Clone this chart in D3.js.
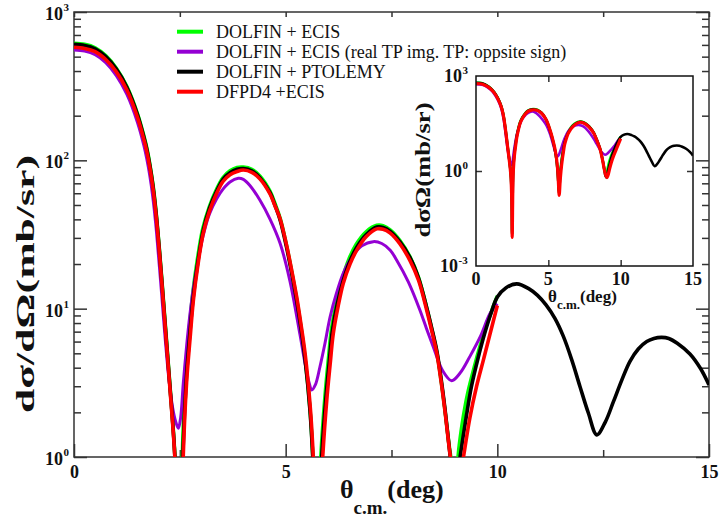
<!DOCTYPE html>
<html>
<head>
<meta charset="utf-8">
<script src="https://cdn.jsdelivr.net/npm/d3@7"></script>
<style>
  html, body { margin: 0; padding: 0; background: #fff; }
  svg { display: block; font-family: "Liberation Serif", "Times New Roman", serif; }
</style>
</head>
<body>
<svg id="chart" width="720" height="517" font-family="Liberation Serif, Times New Roman, serif"></svg>
<script>
// Differential cross section dσ/dΩ (mb/sr) against θc.m. (deg), one [theta, sigma] list per calculation.
const dolfinEcis = [
  [0,615],[0.25,605],[0.5,574],[0.75,508],[1.0,418],[1.25,314],[1.5,206],[1.654,145],[1.724,120],[1.795,93],
  [1.866,68.5],[1.937,45.5],[2.008,27],[2.079,15.2],[2.173,6.8],[2.268,3.0],[2.362,1.3],[2.42,0.62],[2.47,0.13],
  [2.5,0.01],[2.54,0.45],[2.57,1.3],[2.65,4.0],[2.73,7.6],[2.81,13],[2.92,22],[3.04,34.5],[3.2,49],[3.37,64],
  [3.52,76.5],[3.685,85],[3.85,89.5],[4.0,90],[4.2,87],[4.39,78.5],[4.63,62],[4.75,51],[4.87,40.7],[5.02,26.8],
  [5.14,18],[5.26,11.6],[5.36,7.6],[5.46,4.6],[5.575,2.1],[5.64,1.02],[5.69,0.45],[5.73,0.2],[5.78,0.45],
  [5.83,1.0],[5.93,2.6],[6.01,4.6],[6.08,7.2],[6.2,11],[6.34,16],[6.5,21.8],[6.66,27],[6.9,33],[7.15,36.5],
  [7.3,36.3],[7.47,34],[7.7,28.8],[7.94,22.3],[8.14,16.2],[8.33,10.2],[8.45,7.3],[8.57,5.1],[8.67,3.3],
  [8.76,2.1],[8.88,1.1],[8.95,0.85],[9.0,0.8],[9.05,0.9],[9.1,1.2],[9.2,1.9],[9.3,2.7],[9.45,4.0],[9.6,5.7],
  [9.75,7.8],[9.9,10.3],[10.0,12.2]
];
const dolfinEcisOpposite = [
  [0,555],[0.25,545],[0.5,515],[0.75,455],[1.0,372],[1.25,278],[1.5,180],[1.65,126],[1.72,102],[1.79,79],
  [1.86,57],[1.93,37.5],[2.0,22],[2.07,12.6],[2.16,6.0],[2.25,3.19],[2.33,2.15],[2.4,1.74],[2.465,1.56],
  [2.52,1.85],[2.58,3.1],[2.66,5.6],[2.74,9.2],[2.82,13.8],[2.93,21],[3.05,31],[3.2,43.5],[3.37,55],[3.52,64],
  [3.685,71.5],[3.88,75.7],[4.0,74.5],[4.15,68],[4.39,54],[4.63,40.2],[4.87,27.5],[5.1,15.4],[5.34,6.64],
  [5.46,4.24],[5.55,3.2],[5.615,2.83],[5.7,3.06],[5.81,4.06],[5.93,5.87],[6.05,8.8],[6.2,12.7],[6.36,17.3],
  [6.55,22],[6.8,26.5],[7.07,28.3],[7.27,27.5],[7.47,24.8],[7.62,21.3],[7.9,15.1],[8.17,9.8],[8.33,7.3],
  [8.49,5.5],[8.7,3.86],[8.92,3.27],[9.12,3.68],[9.35,4.75],[9.6,6.5],[9.83,9.3],[10.0,10.8]
];
const dolfinPtolemy = [
  [0,605],[0.25,595],[0.5,565],[0.75,500],[1.0,412],[1.25,310],[1.5,203],[1.654,142],[1.724,117],[1.795,91],
  [1.866,67],[1.937,44.5],[2.008,26.5],[2.079,14.8],[2.173,6.6],[2.268,2.95],[2.362,1.27],[2.42,0.6],[2.47,0.12],
  [2.5,0.01],[2.55,0.4],[2.58,1.2],[2.66,3.6],[2.74,7],[2.82,12.2],[2.93,21],[3.05,33.5],[3.2,47.5],[3.37,62],
  [3.52,74.5],[3.685,82.5],[3.85,87],[4.0,88],[4.2,85],[4.39,76.5],[4.63,60.5],[4.75,49.5],[4.87,39.5],[5.02,26],
  [5.14,17.5],[5.26,11.3],[5.36,7.4],[5.46,4.5],[5.575,2.05],[5.64,1.0],[5.69,0.45],[5.74,0.2],[5.8,0.5],
  [5.85,1.0],[5.95,2.5],[6.03,4.4],[6.1,7.0],[6.22,10.8],[6.36,15.5],[6.52,21],[6.68,26],[6.9,31.5],[7.15,35.5],
  [7.3,35.3],[7.47,33.2],[7.7,28.2],[7.94,22],[8.14,16],[8.33,10.2],[8.45,7.4],[8.57,5.2],[8.67,3.4],[8.76,2.15],
  [8.88,1.05],[8.95,0.7],[9.02,0.62],[9.12,1.0],[9.27,1.9],[9.39,3.0],[9.55,4.7],[9.7,6.8],[9.85,9.3],[10.0,12.0],
  [10.2,13.8],[10.46,14.7],[10.75,13.6],[10.95,12.3],[11.15,10.6],[11.36,8.6],[11.56,6.5],[11.76,4.5],[11.95,3.0],
  [12.15,1.98],[12.35,1.41],[12.55,1.72],[12.74,2.35],[12.94,3.3],[13.13,4.4],[13.33,5.35],[13.53,6.0],[13.7,6.3],
  [13.88,6.4],[14.05,6.3],[14.25,5.85],[14.55,4.95],[14.8,3.95],[15.0,3.06]
];
const dfpd4Ecis = [
  [0,578],[0.25,568],[0.5,540],[0.75,478],[1.0,395],[1.25,298],[1.5,195],[1.654,137],[1.724,113],[1.795,88],
  [1.866,64.7],[1.937,43],[2.008,25.7],[2.079,14.4],[2.173,6.4],[2.268,2.86],[2.362,1.24],[2.42,0.6],[2.47,0.12],
  [2.5,0.008],[2.55,0.35],[2.58,1.0],[2.66,3.2],[2.74,6.2],[2.82,11.4],[2.93,20],[3.05,32],[3.2,45.5],[3.37,60],
  [3.52,72],[3.685,80],[3.85,84],[4.0,86],[4.2,83],[4.39,75],[4.63,59.3],[4.75,49.2],[4.87,40.2],[5.02,26.9],
  [5.14,18.3],[5.26,12.0],[5.36,7.9],[5.46,4.95],[5.575,2.28],[5.64,1.17],[5.69,0.5],[5.75,0.17],[5.82,0.5],
  [5.875,1.0],[5.97,2.4],[6.05,4.2],[6.125,6.8],[6.24,10.4],[6.36,14.8],[6.52,20],[6.68,24.8],[6.9,30.5],
  [7.15,34.5],[7.3,34.3],[7.47,32.3],[7.7,27.3],[7.94,21.0],[8.14,15.5],[8.33,9.8],[8.45,7.1],[8.57,5.0],
  [8.67,3.25],[8.76,2.07],[8.88,1.06],[8.97,0.72],[9.05,0.62],[9.12,0.72],[9.2,1.0],[9.35,1.83],[9.51,3.0],
  [9.67,4.5],[9.83,6.8],[10.0,10.5]
];

const seriesNames = [
  "DOLFIN + ECIS",
  "DOLFIN + ECIS (real TP img. TP: oppsite sign)",
  "DOLFIN + PTOLEMY",
  "DFPD4 +ECIS"
];
const seriesColors = ["#00ff00", "#9400d3", "#000000", "#ff0000"];
const seriesData = [dolfinEcis, dolfinEcisOpposite, dolfinPtolemy, dfpd4Ecis];

// Axis ticks
const xMajorTicks = [0, 5, 10, 15];
const xMinorTicks = [2.5, 7.5, 12.5];
const yDecadeExponents = [0, 1, 2, 3];
const insetXMajorTicks = [0, 5, 10, 15];
const insetYExponents = [-3, 0, 3];

const serif = "Liberation Serif, Times New Roman, serif";
const svg = d3.select("#chart");
svg.append("rect").attr("width", 720).attr("height", 517).attr("fill", "#fff");

// ---------- main panel ----------
const M = { left: 74, right: 709, top: 12, bottom: 457 };
const x = d3.scaleLinear().domain([0, 15]).range([M.left, M.right]);
const y = d3.scaleLog().domain([1, 1000]).range([M.bottom, M.top]);

const yMinorTicks = [];
yDecadeExponents.slice(0, -1).forEach(e => {
  for (let k = 2; k <= 9; k++) yMinorTicks.push(k * Math.pow(10, e));
});

const axisColor = "#333";
function tickAxis(g, axis) {
  g.call(axis);
  g.attr("font-family", serif);
  g.select(".domain").remove();
  g.selectAll(".tick line").attr("stroke", axisColor).attr("stroke-width", 1.5);
  return g;
}

// bottom
tickAxis(svg.append("g").attr("transform", `translate(0,${M.bottom})`),
  d3.axisBottom(x).tickValues(xMajorTicks).tickSize(-13).tickPadding(8).tickFormat(d3.format("d")))
  .selectAll(".tick text")
  .attr("font-family", serif).attr("font-weight", "bold")
  .attr("font-size", 18).attr("fill", "#111");
tickAxis(svg.append("g").attr("transform", `translate(0,${M.bottom})`),
  d3.axisBottom(x).tickValues(xMinorTicks).tickSize(-7).tickFormat(""));
// top
tickAxis(svg.append("g").attr("transform", `translate(0,${M.top})`),
  d3.axisTop(x).tickValues(xMajorTicks.concat(xMinorTicks)).tickSize(-5).tickFormat(""));
// left / right
[[M.left, d3.axisLeft], [M.right, d3.axisRight]].forEach(([px, ax]) => {
  tickAxis(svg.append("g").attr("transform", `translate(${px},0)`),
    ax(y).tickValues(yDecadeExponents.map(e => Math.pow(10, e))).tickSize(-13).tickFormat(""));
  tickAxis(svg.append("g").attr("transform", `translate(${px},0)`),
    ax(y).tickValues(yMinorTicks).tickSize(-7).tickFormat(""));
});

// y tick labels 10^n
const yLab = svg.append("g").attr("font-family", serif).attr("font-weight", "bold").attr("fill", "#111");
yDecadeExponents.forEach(e => {
  const py = y(Math.pow(10, e));
  yLab.append("text").attr("x", 63).attr("y", py + 8).attr("text-anchor", "end")
    .attr("font-size", 18).text("10");
  yLab.append("text").attr("x", 63.5).attr("y", py - 1).attr("font-size", 11).text(e);
});

// frame
svg.append("rect")
  .attr("x", M.left).attr("y", M.top)
  .attr("width", M.right - M.left).attr("height", M.bottom - M.top)
  .attr("fill", "none").attr("stroke", axisColor).attr("stroke-width", 1.5);

// curves
svg.append("clipPath").attr("id", "clipMain").append("rect")
  .attr("x", M.left).attr("y", M.top)
  .attr("width", M.right - M.left).attr("height", M.bottom - M.top);

const smooth = d3.curveCatmullRom.alpha(0.5);
const lineMain = d3.line().x(d => x(d[0])).y(d => y(d[1])).curve(smooth);
const curvesMain = svg.append("g").attr("clip-path", "url(#clipMain)");
seriesData.forEach((data, i) => {
  curvesMain.append("path").datum(data)
    .attr("d", lineMain)
    .attr("fill", "none")
    .attr("stroke", seriesColors[i])
    .attr("stroke-width", i === 1 ? 3 : 3.6)
    .attr("stroke-linejoin", "round");
});

// axis titles
svg.append("text")
  .attr("transform", "translate(34,284) rotate(-90)")
  .attr("text-anchor", "middle").attr("font-family", serif)
  .attr("font-weight", "bold").attr("font-size", 25).attr("fill", "#111")
  .attr("textLength", 258).attr("lengthAdjust", "spacingAndGlyphs")
  .text("dσ/dΩ(mb/sr)");

const xTitle = svg.append("text").attr("x", 340).attr("y", 498).attr("font-family", serif)
  .attr("font-weight", "bold").attr("font-size", 26).attr("fill", "#111");
xTitle.append("tspan").text("θ");
xTitle.append("tspan").attr("font-size", 19).attr("dy", 16).text("c.m.");
xTitle.append("tspan").attr("dy", -16).text("(deg)");

// legend
const legend = svg.append("g").attr("font-family", serif);
seriesNames.forEach((name, i) => {
  const ly = 31.7 + i * 20;
  legend.append("line")
    .attr("x1", 177).attr("x2", 203).attr("y1", ly).attr("y2", ly)
    .attr("stroke", seriesColors[i]).attr("stroke-width", 4);
  legend.append("text").attr("x", 216).attr("y", ly + 6.6)
    .attr("font-size", 18).attr("fill", "#111").text(name);
});

// ---------- inset panel ----------
const I = { left: 476, right: 693, top: 76, bottom: 266 };
const xi = d3.scaleLinear().domain([0, 15]).range([I.left, I.right]);
const yi = d3.scaleLog().domain([1e-3, 1e3]).range([I.bottom, I.top]);

svg.append("rect")
  .attr("x", I.left).attr("y", I.top)
  .attr("width", I.right - I.left).attr("height", I.bottom - I.top)
  .attr("fill", "#fff");

svg.append("clipPath").attr("id", "clipInset").append("rect")
  .attr("x", I.left).attr("y", I.top)
  .attr("width", I.right - I.left).attr("height", I.bottom - I.top);

const lineInset = d3.line().x(d => xi(d[0])).y(d => yi(d[1])).curve(smooth);
const curvesInset = svg.append("g").attr("clip-path", "url(#clipInset)");
seriesData.forEach((data, i) => {
  curvesInset.append("path").datum(data)
    .attr("d", lineInset)
    .attr("fill", "none")
    .attr("stroke", seriesColors[i])
    .attr("stroke-width", i === 3 ? 3.2 : 2.6)
    .attr("stroke-linejoin", "round");
});

const insetInner = insetXMajorTicks.slice(1, -1);
tickAxis(svg.append("g").attr("transform", `translate(0,${I.bottom})`),
  d3.axisBottom(xi).tickValues(insetInner).tickSize(-6).tickFormat(""));
tickAxis(svg.append("g").attr("transform", `translate(0,${I.top})`),
  d3.axisTop(xi).tickValues(insetInner).tickSize(-6).tickFormat(""));
[[I.left, d3.axisLeft], [I.right, d3.axisRight]].forEach(([px, ax]) => {
  tickAxis(svg.append("g").attr("transform", `translate(${px},0)`),
    ax(yi).tickValues([1]).tickSize(-6).tickFormat(""));
});

svg.append("rect")
  .attr("x", I.left).attr("y", I.top)
  .attr("width", I.right - I.left).attr("height", I.bottom - I.top)
  .attr("fill", "none").attr("stroke", "#111").attr("stroke-width", 1.5);

// inset x labels
const insetLab = svg.append("g").attr("font-family", serif).attr("font-weight", "bold").attr("fill", "#111");
insetXMajorTicks.forEach(t => {
  insetLab.append("text").attr("x", xi(t)).attr("y", 285)
    .attr("text-anchor", "middle").attr("font-size", 18).text(t);
});
// inset y labels 10^n
insetYExponents.forEach(e => {
  const py = yi(Math.pow(10, e));
  const endX = e < 0 ? 458 : 462;
  insetLab.append("text").attr("x", endX).attr("y", py + 6)
    .attr("text-anchor", "end").attr("font-size", 18).text("10");
  insetLab.append("text").attr("x", endX + 0.5).attr("y", py - 2)
    .attr("font-size", 11).text(e);
});

// inset titles
svg.append("text")
  .attr("transform", "translate(430,170) rotate(-90)")
  .attr("text-anchor", "middle").attr("font-family", serif)
  .attr("font-weight", "bold").attr("font-size", 21).attr("fill", "#111")
  .attr("textLength", 135).attr("lengthAdjust", "spacingAndGlyphs")
  .text("dσΩ(mb/sr)");

const xiTitle = svg.append("text").attr("x", 548).attr("y", 302).attr("font-family", serif)
  .attr("font-weight", "bold").attr("font-size", 17).attr("fill", "#111");
xiTitle.append("tspan").text("θ");
xiTitle.append("tspan").attr("font-size", 13).attr("dy", 7).text("c.m.");
xiTitle.append("tspan").attr("dy", -7).text("(deg)");
</script>
</body>
</html>
